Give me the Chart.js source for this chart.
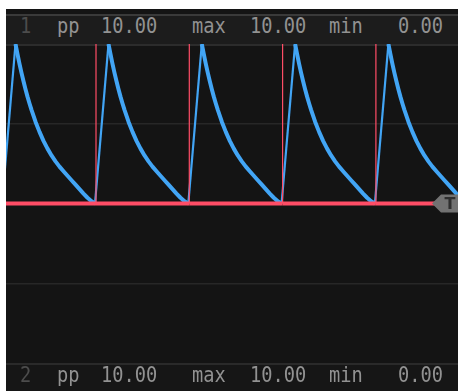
<!DOCTYPE html>
<html>
<head>
<meta charset="utf-8">
<script src="https://cdn.jsdelivr.net/npm/chart.js@4.4.1/dist/chart.umd.min.js"></script>
<style>
  html, body { margin: 0; padding: 0; background: #ffffff; }
  body { width: 458px; height: 391px; position: relative; overflow: hidden; }
  #panel { position: absolute; left: 6px; top: 9px; width: 452px; height: 382px; background: #141414; }
  #topBand { position: absolute; left: 6px; top: 14px; width: 452px; height: 28px;
             border-top: 2px solid #3a3a3a; border-bottom: 2px solid #2c2c2c; background: #1c1c1c; }
  #botBand { position: absolute; left: 6px; top: 363px; width: 452px; height: 26px;
             border-top: 2px solid #2a2a2a; background: #161616; }
  .lbl { position: absolute; font-family: "DejaVu Sans Mono", monospace; font-size: 22px;
         color: #929292; transform: scaleX(0.85); transform-origin: left top; white-space: pre; line-height: 22px; }
  .ch { color: #4c4c4c; }
  #plot { position: absolute; left: 6px; top: 44px; }
</style>
</head>
<body>
<div id="panel"></div>
<div id="topBand"></div>
<div id="botBand"></div>
<canvas id="plot" width="452" height="319"></canvas>
<div id="labels"></div>
<script>
// Channel readouts (peak-to-peak, max, min)
const channels = ['1', '2'];
const readoutNames = ['pp', 'max', 'min'];
const readoutValues = ['10.00', '10.00', '0.00'];

// Trace 1: pulse start times (samples) and the shape of one charge/discharge cycle
const pulseTimes = [-4, 89, 182.3, 275.6, 368.9];
const riseOffsets = [0, 13.5];
const riseValues = [0, 10];
const decayOffsets = [2, 4, 6, 8, 10, 12, 14, 16, 20, 24, 28, 32, 36, 40, 44, 48, 52, 56, 60, 64, 68, 72, 76, 79.8];
const decayValues = [9.36, 8.75, 8.19, 7.66, 7.17, 6.70, 6.27, 5.87, 5.13, 4.49, 3.93, 3.44, 3.01, 2.64, 2.31, 2.02, 1.74, 1.46, 1.18, 0.90, 0.62, 0.36, 0.14, 0];

// Trace 2: trigger spikes (samples) and levels
const spikeTimes = [-3, 90, 183.3, 276.6, 369.9];
const spikeHigh = 10;
const baseLevel = 0;
const triggerLevel = 0;

const xMin = 0, xMax = 452;
const yMin = -10, yMax = 10;

// build trace 1
const trace1 = [];
pulseTimes.forEach(t0 => {
  riseOffsets.forEach((o, i) => trace1.push({ x: t0 + o, y: riseValues[i] }));
  const peak = t0 + riseOffsets[riseOffsets.length - 1];
  decayOffsets.forEach((o, i) => trace1.push({ x: peak + o, y: decayValues[i] }));
});

// build trace 2
const trace2 = [{ x: xMin, y: baseLevel }];
spikeTimes.forEach(t => {
  if (t < xMin) return;
  trace2.push({ x: t, y: baseLevel }, { x: t, y: spikeHigh }, { x: t, y: baseLevel });
});
trace2.push({ x: xMax, y: baseLevel });

// readout labels
const labelRows = [{ top: 15 }, { top: 364 }];
const colLeft = { ch: 20, n: [57, 192, 329], v: [101, 250, 398] };
const box = document.getElementById('labels');
function addLabel(text, left, top, cls) {
  const s = document.createElement('span');
  s.className = 'lbl' + (cls ? ' ' + cls : '');
  s.textContent = text;
  s.style.left = left + 'px';
  s.style.top = top + 'px';
  box.appendChild(s);
}
channels.forEach((c, r) => {
  const top = labelRows[r].top;
  addLabel(c, colLeft.ch, top, 'ch');
  readoutNames.forEach((n, i) => {
    addLabel(n, colLeft.n[i], top);
    addLabel(readoutValues[i], colLeft.v[i], top);
  });
});

// trigger level marker on the right edge
const triggerMarker = {
  id: 'triggerMarker',
  afterDatasetsDraw(chart) {
    const { ctx, chartArea, scales } = chart;
    const y = scales.y.getPixelForValue(triggerLevel);
    const r = chartArea.right;
    ctx.save();
    ctx.fillStyle = '#727272';
    ctx.beginPath();
    ctx.moveTo(r - 26, y);
    ctx.lineTo(r - 17, y - 9);
    ctx.lineTo(r, y - 9);
    ctx.lineTo(r, y + 9);
    ctx.lineTo(r - 17, y + 9);
    ctx.closePath();
    ctx.fill();
    ctx.fillStyle = '#2e2e2e';
    ctx.font = 'bold 16px "DejaVu Sans"';
    ctx.textAlign = 'center';
    ctx.textBaseline = 'middle';
    ctx.fillText('T', r - 8, y + 1);
    ctx.restore();
  }
};

new Chart(document.getElementById('plot'), {
  type: 'line',
  data: {
    datasets: [
      {
        data: trace2,
        borderColor: '#ff4d66',
        borderWidth: 4,
        pointRadius: 0,
        tension: 0,
        segment: {
          borderWidth: c => (Math.abs(c.p0.x - c.p1.x) < 0.5 ? 1.2 : 4)
        }
      },
      {
        data: trace1,
        borderColor: '#42a5f5',
        borderWidth: 4,
        pointRadius: 0,
        tension: 0,
        borderJoinStyle: 'round',
        segment: {
          borderWidth: c => (c.p1.parsed.y > c.p0.parsed.y ? 2.2 : 4)
        }
      }
    ]
  },
  options: {
    responsive: false,
    devicePixelRatio: 1,
    animation: false,
    events: [],
    layout: { padding: 0 },
    plugins: { legend: { display: false }, tooltip: { enabled: false } },
    scales: {
      x: { type: 'linear', min: xMin, max: xMax, display: false },
      y: {
        min: yMin, max: yMax,
        ticks: { display: false, stepSize: 5 },
        border: { display: false },
        grid: {
          drawTicks: false,
          lineWidth: 1.5,
          color: c => (Math.abs(c.tick.value) === 10 ? 'rgba(0,0,0,0)' : '#272727')
        },
        afterFit: s => { s.width = 0; }
      }
    }
  },
  plugins: [triggerMarker]
});
</script>
</body>
</html>
